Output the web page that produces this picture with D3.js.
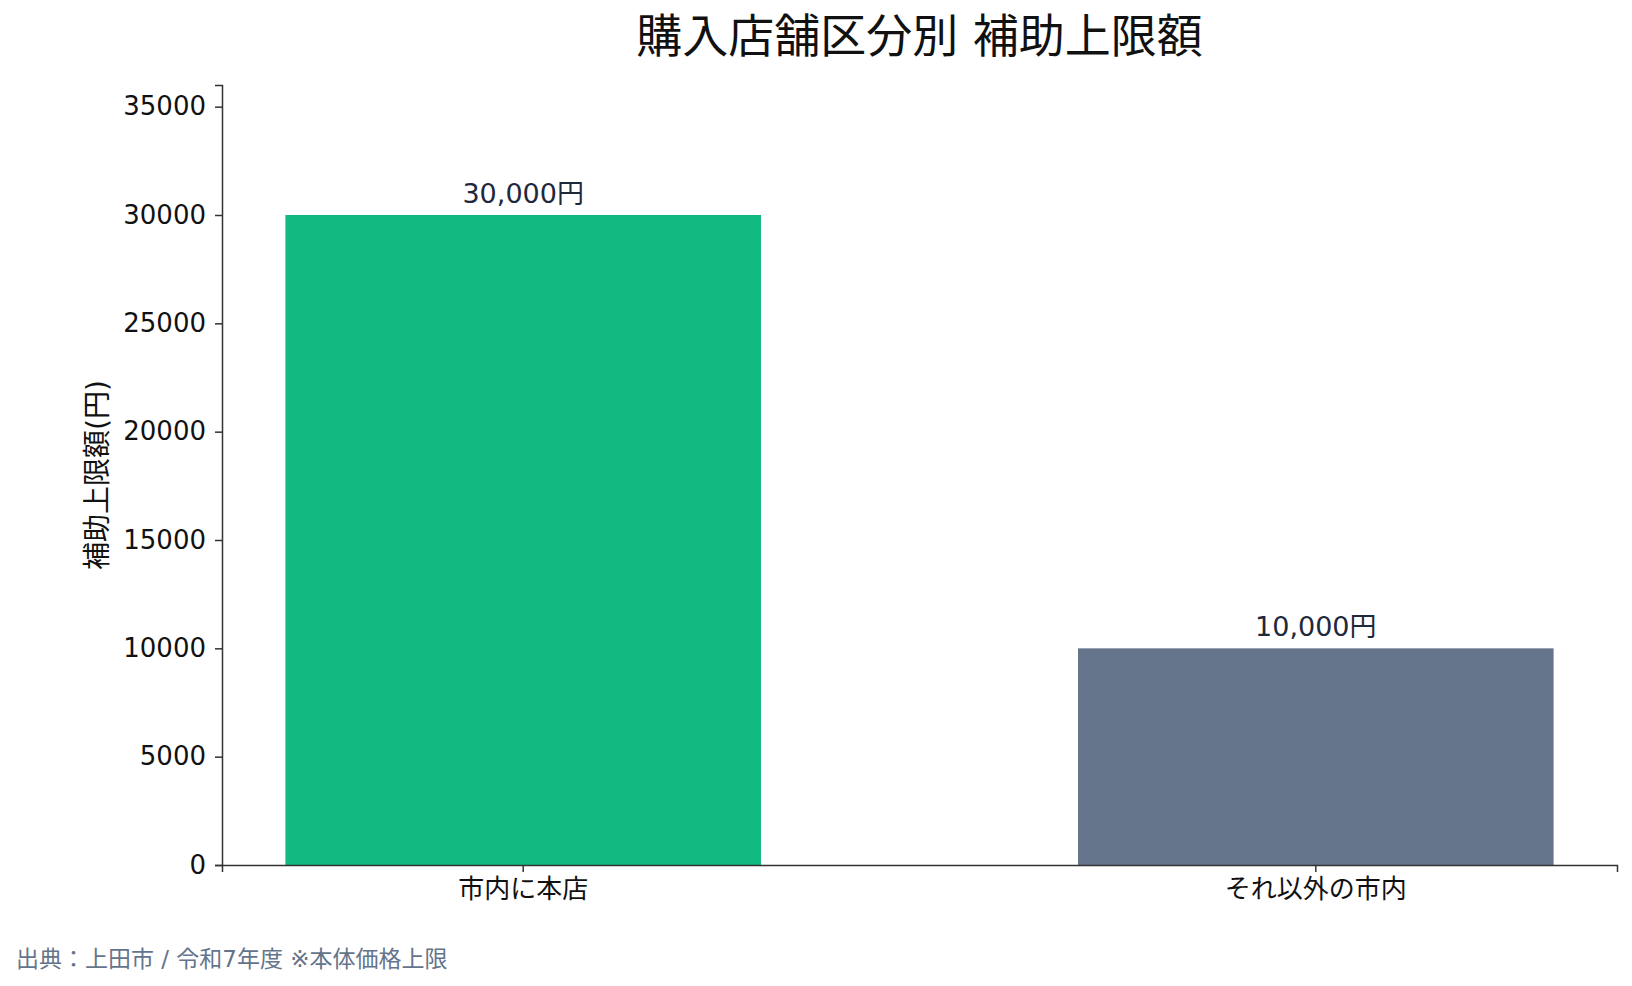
<!DOCTYPE html>
<html>
<head>
<meta charset="utf-8">
<script src="https://cdn.jsdelivr.net/npm/d3@7"></script>
<style>
  body { margin: 0; background: #fff; }
  svg text { font-family: "DejaVu Sans", "Noto Sans CJK JP", sans-serif; }
</style>
</head>
<body>
<svg id="chart" width="1632" height="986"></svg>
<script>
// data
const categories = ['市内に本店', 'それ以外の市内'];
const amounts = [30000, 10000];
const valueLabels = ['30,000円', '10,000円'];
const barColors = ['#12b981', '#64748b'];
const yTicks = [0, 5000, 10000, 15000, 20000, 25000, 30000, 35000];

const margin = {top: 85, right: 15, bottom: 121, left: 222};
const W = 1632, H = 986;
const width = W - margin.left - margin.right;
const height = H - margin.top - margin.bottom;

const svg = d3.select('#chart');
const g = svg.append('g').attr('transform', `translate(${margin.left},${margin.top})`);

const x = d3.scaleBand()
    .domain(categories)
    .range([0, width])
    .paddingInner(0.4)
    .paddingOuter(0.08);

const y = d3.scaleLinear()
    .domain([0, 36000])
    .range([height, 0]);

// bars
g.selectAll('rect.bar')
    .data(amounts)
    .enter()
    .append('rect')
    .attr('class', 'bar')
    .attr('x', (d, i) => x(categories[i]))
    .attr('y', d => y(d))
    .attr('width', x.bandwidth())
    .attr('height', d => height - y(d))
    .attr('fill', (d, i) => barColors[i]);

// value labels
g.selectAll('text.val')
    .data(amounts)
    .enter()
    .append('text')
    .attr('class', 'val')
    .attr('x', (d, i) => x(categories[i]) + x.bandwidth() / 2)
    .attr('y', d => y(d) - 12)
    .attr('text-anchor', 'middle')
    .style('font-size', '27px')
    .style('fill', '#1e293b')
    .text((d, i) => valueLabels[i]);

// axes
const yAxis = g.append('g')
    .call(d3.axisLeft(y).tickValues(yTicks).tickFormat(d3.format('d')).tickSizeOuter(0).tickSize(7).tickPadding(9));
yAxis.select('.domain').attr('stroke', '#333').attr('stroke-width', 1.5);
yAxis.selectAll('.tick line').attr('stroke', '#333').attr('stroke-width', 1.5);
yAxis.selectAll('.tick text').style('font-size', '26px').style('fill', '#111');

const xAxis = g.append('g')
    .attr('transform', `translate(0,${height})`)
    .call(d3.axisBottom(x).tickSizeOuter(0).tickSize(7).tickPadding(8));
xAxis.select('.domain').attr('stroke', '#333').attr('stroke-width', 1.5);
xAxis.selectAll('.tick line').attr('stroke', '#333').attr('stroke-width', 1.5);
xAxis.selectAll('.tick text').style('font-size', '26px').style('fill', '#111');

// strip D3's default font attribute so CSS font applies
svg.selectAll('g').attr('font-family', null);

// y label
svg.append('text')
    .attr('transform', `translate(107,${margin.top + height / 2}) rotate(-90)`)
    .attr('text-anchor', 'middle')
    .style('font-size', '28px')
    .style('fill', '#111')
    .text('補助上限額(円)');

// title
svg.append('text')
    .attr('x', margin.left + width / 2)
    .attr('y', 52)
    .attr('text-anchor', 'middle')
    .style('font-size', '46px')
    .style('fill', '#111')
    .text('購入店舗区分別 補助上限額');

// footer
svg.append('text')
    .attr('x', 16)
    .attr('y', 967)
    .style('font-size', '23px')
    .style('fill', '#64748b')
    .text('出典：上田市 / 令和7年度 ※本体価格上限');
</script>
</body>
</html>
